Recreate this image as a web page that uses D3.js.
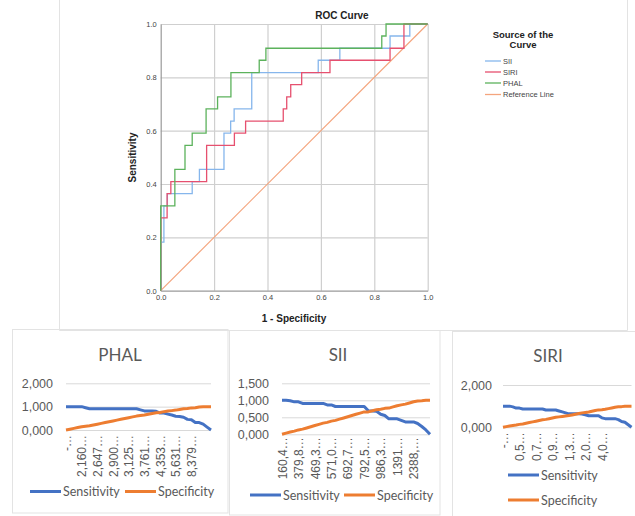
<!DOCTYPE html>
<html>
<head>
<meta charset="utf-8">
<script src="https://cdn.jsdelivr.net/npm/d3@7"></script>
<style>
  body { margin: 0; background: #fff; }
  svg { display: block; }
</style>
</head>
<body>
<svg id="fig" width="635" height="516"></svg>
<script>
// ---- ROC curve data (1 - specificity, sensitivity), corner points of the steps
const rocTicks = [0, 0.2, 0.4, 0.6, 0.8, 1.0];
const rocNames = ["SII", "SIRI", "PHAL", "Reference Line"];
const siiRoc = [[0,0],[0,0.182],[0.012,0.182],[0.012,0.318],[0.025,0.318],[0.025,0.364],[0.118,0.364],[0.118,0.409],
  [0.145,0.409],[0.145,0.455],[0.237,0.455],[0.237,0.591],[0.262,0.591],[0.262,0.636],[0.275,0.636],[0.275,0.682],
  [0.341,0.682],[0.341,0.818],[0.59,0.818],[0.59,0.864],[0.671,0.864],[0.671,0.909],[0.859,0.909],[0.859,0.955],
  [0.933,0.955],[0.933,1],[1,1]];
const siriRoc = [[0,0],[0,0.273],[0.024,0.273],[0.024,0.364],[0.038,0.364],[0.038,0.409],[0.172,0.409],[0.172,0.545],
  [0.276,0.545],[0.276,0.591],[0.318,0.591],[0.318,0.636],[0.459,0.636],[0.459,0.682],[0.472,0.682],[0.472,0.727],
  [0.487,0.727],[0.487,0.773],[0.528,0.773],[0.528,0.818],[0.634,0.818],[0.634,0.864],[0.859,0.864],[0.859,0.909],
  [0.911,0.909],[0.911,1],[1,1]];
const phalRoc = [[0,0],[0,0.318],[0.053,0.318],[0.053,0.455],[0.091,0.455],[0.091,0.545],[0.118,0.545],[0.118,0.591],
  [0.170,0.591],[0.170,0.682],[0.213,0.682],[0.213,0.727],[0.263,0.727],[0.263,0.818],[0.369,0.818],[0.369,0.864],
  [0.394,0.864],[0.394,0.909],[0.828,0.909],[0.828,0.955],[0.844,0.955],[0.844,1],[1,1]];
const refRoc = [[0,0],[1,1]];

// ---- sensitivity / specificity per cut-off (Excel panels)
const seriesNames = ["Sensitivity", "Specificity"];
const phalLabels = ["-…","2,160…","2,647…","2,900…","3,125…","3,761…","4,353…","5,631…","8,379…"];
const phalSens = [1,1,1,1,1,0.955,0.909,0.909,0.909,0.909,0.909,0.909,0.909,0.909,0.909,0.909,0.909,0.909,0.909,
  0.864,0.818,0.818,0.818,0.8,0.727,0.727,0.682,0.64,0.591,0.58,0.545,0.455,0.437,0.318,0.318,0.25,0.123,0];
const phalSpec = [0,0.034,0.069,0.103,0.138,0.16,0.181,0.216,0.25,0.285,0.32,0.353,0.388,0.422,0.457,0.492,0.526,
  0.561,0.595,0.617,0.639,0.673,0.708,0.737,0.752,0.786,0.809,0.83,0.852,0.882,0.909,0.919,0.947,0.95,0.984,1,1,1];
const phalTicks = [0, 1, 2];

const siiLabels = ["160,4…","379,8…","469,3…","571,0…","692,7…","792,5…","986,3…","1391…","2388,…"];
const siiSens = [1,1,0.986,0.955,0.955,0.909,0.909,0.909,0.909,0.909,0.909,0.864,0.864,0.818,0.818,0.818,0.818,
  0.818,0.818,0.818,0.818,0.691,0.682,0.675,0.591,0.553,0.455,0.455,0.455,0.409,0.364,0.364,0.364,0.318,0.23,0.129,0];
const siiSpec = [0,0.035,0.067,0.094,0.129,0.152,0.187,0.222,0.258,0.293,0.328,0.351,0.387,0.41,0.446,0.481,0.517,
  0.552,0.588,0.623,0.659,0.659,0.692,0.725,0.738,0.763,0.771,0.806,0.841,0.865,0.887,0.922,0.958,0.981,0.988,1,1];
const siiTicks = [0, 0.5, 1, 1.5];

const siriLabels = ["-…","0,5…","0,7…","0,9…","1,3…","2,0…","4,0…"];
const siriSens = [1,1,1,0.966,0.909,0.909,0.864,0.864,0.864,0.864,0.864,0.864,0.864,0.818,0.818,0.818,0.816,0.773,
  0.727,0.682,0.636,0.636,0.636,0.636,0.628,0.591,0.545,0.545,0.545,0.545,0.447,0.409,0.409,0.409,0.409,0.364,
  0.273,0.238,0.119,0];
const siriSpec = [0,0.033,0.065,0.089,0.106,0.138,0.158,0.191,0.224,0.256,0.289,0.322,0.354,0.375,0.408,0.44,0.472,
  0.493,0.514,0.534,0.554,0.586,0.619,0.651,0.682,0.704,0.725,0.758,0.79,0.823,0.828,0.85,0.883,0.915,0.948,0.969,
  0.977,1,1,1];
const siriTicks = [0, 2];

const svg = d3.select("#fig");

// ---- panel frames
const frame = svg.append("g").attr("fill", "none").attr("stroke", "#e3e3e3").attr("stroke-width", 1);
frame.append("path").attr("d", "M59.5,0V330.5H627.5V0");
frame.append("rect").attr("x", 12.5).attr("y", 329.5).attr("width", 215.5).attr("height", 183.5);
frame.append("rect").attr("x", 229.5).attr("y", 330.5).attr("width", 210.5).attr("height", 184.5);
frame.append("rect").attr("x", 452.5).attr("y", 331.5).attr("width", 200).attr("height", 200);

// ================= ROC chart =================
const rx = d3.scaleLinear().domain([0, 1]).range([160.7, 427.7]);
const ry = d3.scaleLinear().domain([0, 1]).range([290.7, 24]);
const roc = svg.append("g").attr("font-family", "'Liberation Sans', Arial, sans-serif");

// grid
roc.append("g")
    .attr("transform", "translate(0,290.7)")
    .call(d3.axisBottom(rx).tickValues(rocTicks.slice(1)).tickSize(-266.7).tickFormat(""))
    .call(g => g.select(".domain").remove())
    .call(g => g.selectAll("line").attr("stroke", "#cfcfcf").attr("stroke-width", 1.2));
roc.append("g")
    .attr("transform", "translate(160.7,0)")
    .call(d3.axisLeft(ry).tickValues(rocTicks.slice(1)).tickSize(-267).tickFormat(""))
    .call(g => g.select(".domain").remove())
    .call(g => g.selectAll("line").attr("stroke", "#cfcfcf").attr("stroke-width", 1.2));

// axes with labels
roc.append("g")
    .attr("transform", "translate(0,290.7)")
    .call(d3.axisBottom(rx).tickValues(rocTicks).tickSize(0).tickPadding(4).tickFormat(d3.format(".1f")))
    .call(g => g.select(".domain").attr("stroke", "#9a9a9a").attr("stroke-width", 1.2))
    .call(g => g.selectAll("text").attr("font-size", 7.5).attr("fill", "#444").attr("font-family", null));
roc.append("g")
    .attr("transform", "translate(160.7,0)")
    .call(d3.axisLeft(ry).tickValues(rocTicks).tickSize(0).tickPadding(4).tickFormat(d3.format(".1f")))
    .call(g => g.select(".domain").attr("stroke", "#9a9a9a").attr("stroke-width", 1.2))
    .call(g => g.selectAll("text").attr("font-size", 7.5).attr("fill", "#444").attr("font-family", null));

const rocColors = ["#86b6ec", "#e6506f", "#5cb25c", "#f4a57e"];
const rocData = [siiRoc, siriRoc, phalRoc, refRoc];
const rline = d3.line().x(d => rx(d[0])).y(d => ry(d[1]));

roc.append("path").datum(refRoc)
    .attr("d", rline).attr("fill", "none").attr("stroke", rocColors[3]).attr("stroke-width", 1.2);
[0, 1, 2].forEach(i => {
  roc.append("path").datum(rocData[i])
      .attr("d", rline).attr("fill", "none")
      .attr("stroke", rocColors[i]).attr("stroke-width", 1.3);
});

roc.append("text").attr("x", 342).attr("y", 19).attr("text-anchor", "middle")
    .attr("font-size", 10).attr("font-weight", "bold").attr("fill", "#222").text("ROC Curve");
roc.append("text").attr("x", 294).attr("y", 322).attr("text-anchor", "middle")
    .attr("font-size", 10).attr("font-weight", "bold").attr("fill", "#222").text("1 - Specificity");
roc.append("text").attr("transform", "translate(135.5,157.5) rotate(-90)").attr("text-anchor", "middle")
    .attr("font-size", 10).attr("font-weight", "bold").attr("fill", "#222").text("Sensitivity");

// legend
const leg = roc.append("g");
leg.append("text").attr("x", 523).attr("y", 37.5).attr("text-anchor", "middle")
    .attr("font-size", 9.5).attr("font-weight", "bold").attr("fill", "#222").text("Source of the");
leg.append("text").attr("x", 523).attr("y", 47.5).attr("text-anchor", "middle")
    .attr("font-size", 9.5).attr("font-weight", "bold").attr("fill", "#222").text("Curve");
const legY = [61, 72, 83, 94.5];
rocNames.forEach((n, i) => {
  leg.append("line").attr("x1", 485).attr("x2", 501).attr("y1", legY[i]).attr("y2", legY[i])
      .attr("stroke", rocColors[i]).attr("stroke-width", 1.3);
  leg.append("text").attr("x", 503).attr("y", legY[i] + 2.7)
      .attr("font-size", 7.5).attr("fill", "#444").text(n);
});

// ================= Excel-style panels =================
const xlBlue = "#4472C4", xlOrange = "#ED7D31";
const xlFont = "Lato, 'Open Sans', sans-serif";
const fmt = d => d3.format(".3f")(d).replace(".", ",");

function panel(o) {
  const g = svg.append("g").attr("font-family", xlFont).attr("fill", "#595959");
  const x = d3.scalePoint().domain(d3.range(o.sens.length)).range([o.x0, o.x1]);
  const y = d3.scaleLinear().domain([0, o.yTicks[o.yTicks.length - 1]]).range([o.yb, o.yt]);

  g.append("text").attr("x", o.tx).attr("y", o.ty).attr("text-anchor", "middle")
      .attr("font-size", 17).text(o.title);

  g.append("g")
      .attr("transform", `translate(${o.x0},0)`)
      .call(d3.axisLeft(y).tickValues(o.yTicks).tickSize(-(o.x1 - o.x0)).tickPadding(o.pad).tickFormat(fmt))
      .call(a => a.select(".domain").remove())
      .call(a => a.selectAll("line").attr("stroke", "#d9d9d9"))
      .call(a => a.selectAll("text").attr("font-size", 12.5).attr("fill", "#595959").attr("font-family", null));

  const step = o.every;
  g.append("g")
      .attr("transform", `translate(0,${o.yb})`)
      .call(d3.axisBottom(x).tickValues(d3.range(0, o.sens.length, step).slice(0, o.labels.length))
          .tickSize(0).tickFormat((d, i) => o.labels[i]))
      .call(a => a.select(".domain").remove())
      .call(a => a.selectAll("text")
          .attr("transform", "rotate(-90)").attr("text-anchor", "end")
          .attr("x", -o.lgap).attr("y", 0).attr("dy", "0.35em")
          .attr("font-size", 12).attr("fill", "#595959").attr("font-family", null));

  const ln = d3.line().x((d, i) => x(i)).y(d => y(d));
  [[o.sens, xlBlue], [o.spec, xlOrange]].forEach(([s, c]) => {
    g.append("path").datum(s).attr("d", ln).attr("fill", "none")
        .attr("stroke", c).attr("stroke-width", 3).attr("stroke-linejoin", "round");
  });

  o.legend.forEach((p, i) => {
    g.append("line").attr("x1", p[0]).attr("x2", p[0] + 31).attr("y1", p[1]).attr("y2", p[1])
        .attr("stroke", i ? xlOrange : xlBlue).attr("stroke-width", 3);
    g.append("text").attr("x", p[0] + 33).attr("y", p[1] + 4.5).attr("font-size", 12.5).text(seriesNames[i]);
  });
}

panel({ title: "PHAL", tx: 120, ty: 361, sens: phalSens, spec: phalSpec, labels: phalLabels, every: 4,
  yTicks: phalTicks, x0: 66, x1: 211, yb: 430, yt: 383.3, pad: 13, lgap: 5,
  legend: [[30, 491.5], [125, 491.5]] });
panel({ title: "SII", tx: 338, ty: 361, sens: siiSens, spec: siiSpec, labels: siiLabels, every: 4,
  yTicks: siiTicks, x0: 282, x1: 430, yb: 434.3, yt: 383.3, pad: 13, lgap: 3,
  legend: [[250, 495], [344, 495]] });
panel({ title: "SIRI", tx: 548, ty: 362, sens: siriSens, spec: siriSpec, labels: siriLabels, every: 5,
  yTicks: siriTicks, x0: 503, x1: 631.5, yb: 427.3, yt: 385, pad: 11, lgap: 5,
  legend: [[508, 475], [508, 500]] });
</script>
</body>
</html>
